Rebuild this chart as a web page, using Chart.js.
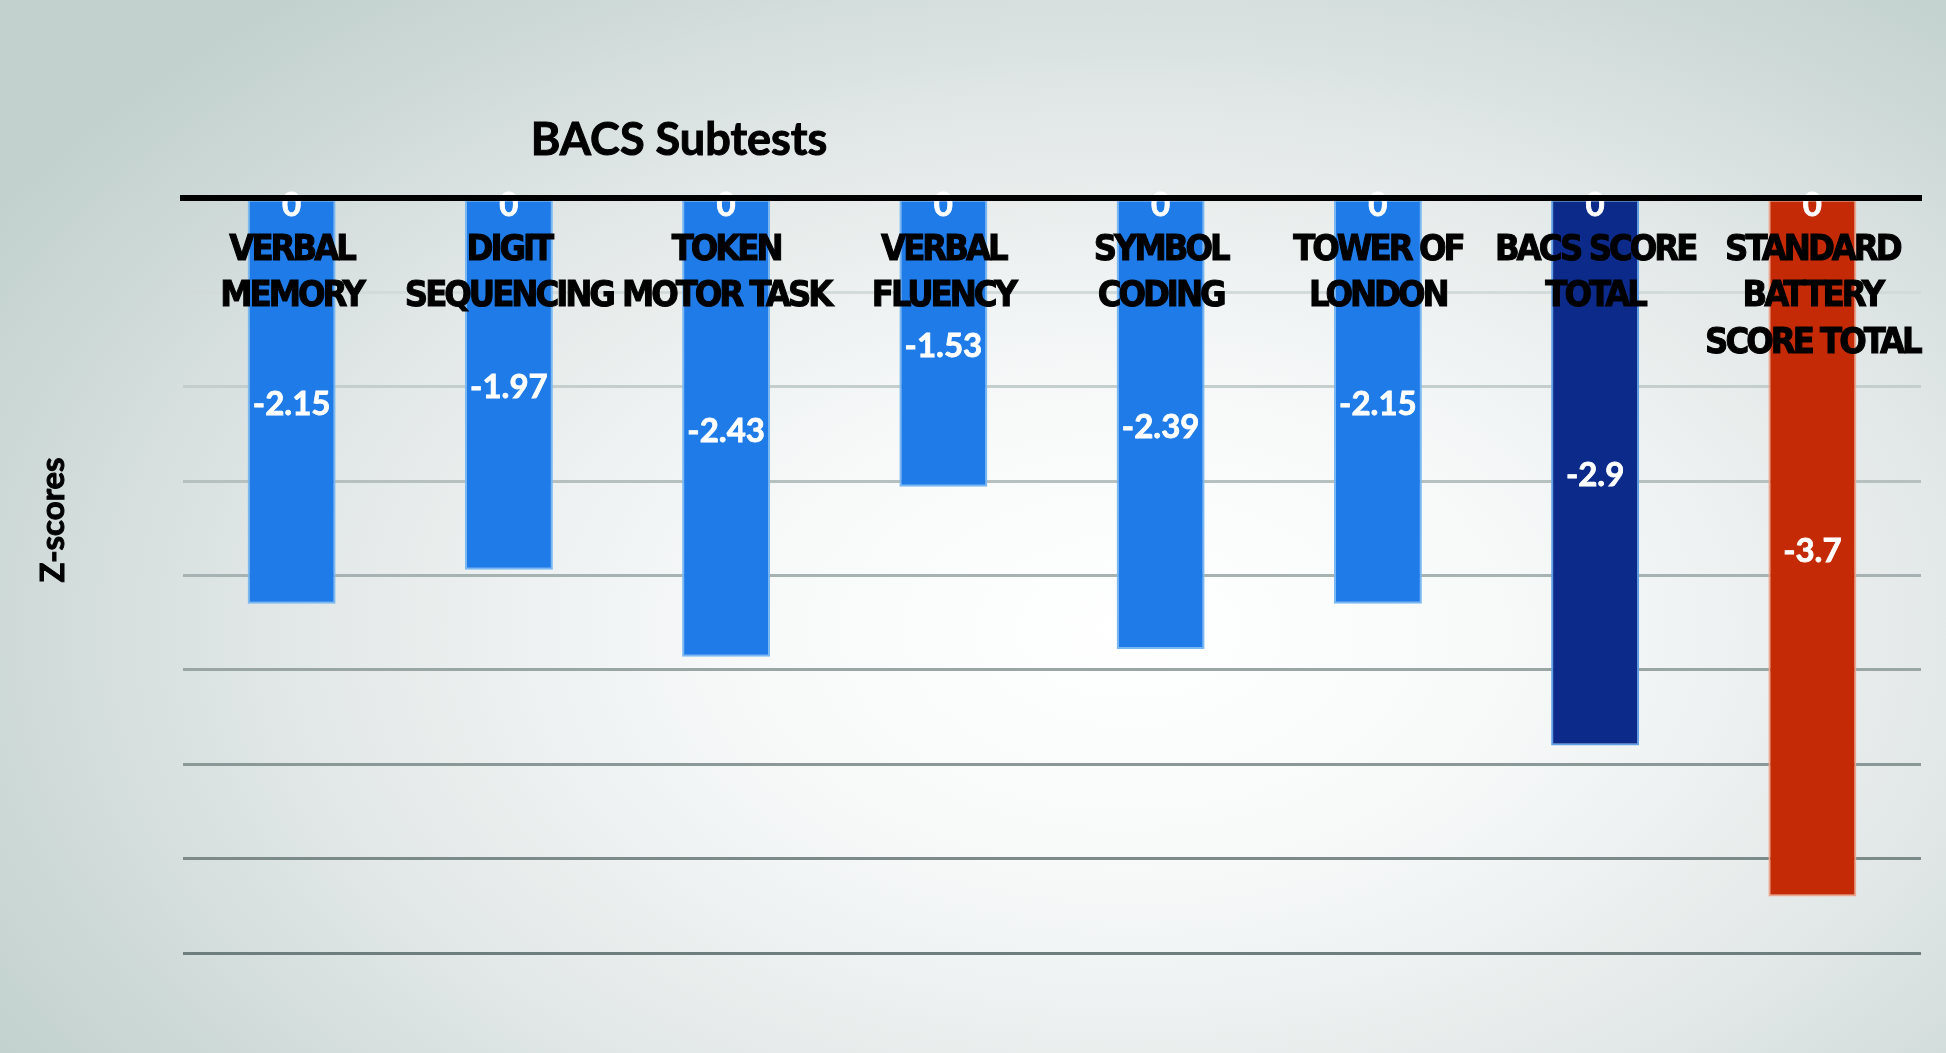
<!DOCTYPE html>
<html>
<head>
<meta charset="utf-8">
<script src="https://cdn.jsdelivr.net/npm/chart.js@4.4.1/dist/chart.umd.min.js"></script>
<style>
  html, body { margin: 0; padding: 0; }
  body {
    width: 1946px; height: 1053px; overflow: hidden;
    background: radial-gradient(ellipse 68% 78% at 58% 60%, #ffffff 0%, #f7f9f9 30%, #e3e9e8 62%, #ccd8d6 88%, #c2d1ce 100%);
  }
  #wrap { position: relative; width: 1946px; height: 1053px; }
  canvas { display: block; }
</style>
</head>
<body>
<div id="wrap"><canvas id="c" width="1946" height="1053"></canvas></div>
<script>
// ---- data ----
const chartTitle = "BACS Subtests";
const yAxisTitle = "Z-scores";
const categories = [
  ["VERBAL", "MEMORY"],
  ["DIGIT", "SEQUENCING"],
  ["TOKEN", "MOTOR TASK"],
  ["VERBAL", "FLUENCY"],
  ["SYMBOL", "CODING"],
  ["TOWER OF", "LONDON"],
  ["BACS SCORE", "TOTAL"],
  ["STANDARD", "BATTERY", "SCORE TOTAL"]
];
const zScores = [-2.15, -1.97, -2.43, -1.53, -2.39, -2.15, -2.9, -3.7];
const baseline = [0, 0, 0, 0, 0, 0, 0, 0];
const yMin = -4;
const yMax = 0;
const yStep = 0.5;

// ---- styles ----
const fillColors = ["#1f7be8", "#1f7be8", "#1f7be8", "#1f7be8", "#1f7be8", "#1f7be8", "#0b2a8a", "#c42a06"];
const edgeColors = ["#7ab8f2", "#7ab8f2", "#7ab8f2", "#7ab8f2", "#7ab8f2", "#7ab8f2", "#5f9fe6", "#eea58e"];

function mix(a, b, t) {
  const pa = [1,3,5].map(i => parseInt(a.substr(i,2),16));
  const pb = [1,3,5].map(i => parseInt(b.substr(i,2),16));
  const r = pa.map((v, k) => Math.round(v + (pb[k] - v) * t));
  return `rgb(${r[0]},${r[1]},${r[2]})`;
}

// tight letter spacing for the category tick labels (heavy, condensed look)
const tightText = {
  id: 'tightText',
  beforeDraw(chart) { chart.ctx.letterSpacing = '-3px'; },
  afterDraw(chart) { chart.ctx.letterSpacing = '0px'; }
};

const valueLabels = {
  id: 'valueLabels',
  afterDatasetsDraw(chart) {
    const ctx = chart.ctx;
    ctx.save();
    ctx.letterSpacing = '0px';
    ctx.fillStyle = '#ffffff';
    ctx.strokeStyle = '#ffffff';
    ctx.lineWidth = 0.8;
    ctx.font = 'bold 33px Lato, "Open Sans", sans-serif';
    ctx.textAlign = 'center';
    ctx.textBaseline = 'middle';
    chart.data.datasets.forEach((ds, di) => {
      const meta = chart.getDatasetMeta(di);
      meta.data.forEach((bar, i) => {
        const v = ds.data[i];
        let y;
        if (v === 0) y = bar.y + 7;
        else y = (bar.y + bar.base) / 2 + 3;
        ctx.fillText(String(v), bar.x, y);
        ctx.strokeText(String(v), bar.x, y);
      });
    });
    ctx.restore();
  }
};

const titles = {
  id: 'titles',
  afterDraw(chart) {
    const ctx = chart.ctx;
    ctx.save();
    ctx.letterSpacing = '0px';
    ctx.fillStyle = '#000000';
    ctx.strokeStyle = '#000000';
    ctx.lineWidth = 1;
    ctx.font = 'bold 45px Lato, "Open Sans", sans-serif';
    ctx.textAlign = 'center';
    ctx.textBaseline = 'alphabetic';
    ctx.fillText(chartTitle, 679, 155);
    ctx.strokeText(chartTitle, 679, 155);
    ctx.translate(53, 520);
    ctx.rotate(-Math.PI / 2);
    ctx.font = 'bold 33px Lato, "Open Sans", sans-serif';
    ctx.textBaseline = 'middle';
    ctx.fillText(yAxisTitle, 0, 0);
    ctx.strokeText(yAxisTitle, 0, 0);
    ctx.restore();
  }
};

new Chart(document.getElementById('c'), {
  type: 'bar',
  data: {
    labels: categories,
    datasets: [
      {
        label: 'Z-scores',
        data: zScores,
        backgroundColor: fillColors,
        borderColor: edgeColors,
        borderWidth: 2,
        borderSkipped: false,
        grouped: false,
        barPercentage: 0.405,
        categoryPercentage: 1
      },
      {
        label: 'Baseline',
        data: baseline,
        backgroundColor: 'rgba(0,0,0,0)',
        borderWidth: 0,
        grouped: false,
        barPercentage: 0.405,
        categoryPercentage: 1
      }
    ]
  },
  options: {
    responsive: false,
    animation: false,
    devicePixelRatio: 1,
    layout: { padding: { left: 183, right: 25, top: 198, bottom: 100 } },
    plugins: {
      legend: { display: false },
      tooltip: { enabled: false },
      title: { display: false }
    },
    scales: {
      x: {
        position: { y: 0 },
        offset: true,
        afterFit: (s) => { s.paddingLeft = 0; s.paddingRight = 0; },
        grid: { display: false, drawTicks: false },
        border: { display: true, color: '#000000', width: 6, z: 1 },
        ticks: {
          z: 1,
          autoSkip: false,
          maxRotation: 0,
          minRotation: 0,
          padding: 30,
          color: '#000000',
          textStrokeColor: '#000000',
          textStrokeWidth: 1,
          font: { family: '"DejaVu Sans Condensed", "Liberation Sans", sans-serif', weight: 'bold', size: 36, lineHeight: 1.28 }
        }
      },
      y: {
        min: yMin,
        max: yMax,
        ticks: { display: false, stepSize: yStep },
        border: { display: false },
        grid: {
          drawTicks: false,
          lineWidth: 3,
          color: (c) => {
            const v = c.tick ? c.tick.value : 0;
            const t = Math.min(1, Math.max(0, (-v - 0.5) / 3.5));
            return mix('#d3dbda', '#6d7e7c', t);
          }
        }
      }
    }
  },
  plugins: [tightText, valueLabels, titles]
});
</script>
</body>
</html>
